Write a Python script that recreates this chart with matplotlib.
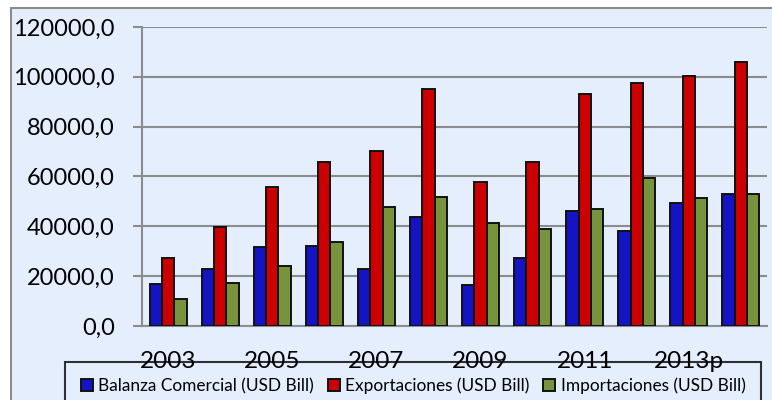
import matplotlib.pyplot as plt
import matplotlib.patches as mpatches
import numpy as np

years = ['2003', '2004', '2005', '2006', '2007', '2008',
         '2009', '2010', '2011', '2012', '2013p', '2014']
balanza = [17000, 22900, 31800, 32200, 22900, 43900,
           16500, 27300, 46100, 38100, 49400, 53000]
exportaciones = [27300, 39800, 55800, 65800, 70200, 95100,
                 57700, 65900, 93000, 97600, 100400, 105900]
importaciones = [10700, 17200, 24100, 33700, 47600, 51600,
                 41200, 38800, 47000, 59500, 51400, 53100]
series_names = ['Balanza Comercial (USD Bill)',
                'Exportaciones (USD Bill)',
                'Importaciones (USD Bill)']
colors = ['#1414C4', '#CC0000', '#77933C']

plt.rcParams['font.family'] = ['Lato', 'DejaVu Sans']

W, H = 772, 400
fig = plt.figure(figsize=(W / 100, H / 100), dpi=100)
fig.patch.set_facecolor('white')

# chart area background with grey border (cut off at right/bottom)
bg = mpatches.Rectangle((11 / W, 1 - 8 / H), 2, -2, transform=fig.transFigure,
                        facecolor='#E4EEFD', edgecolor='#8C8C8C', linewidth=1.5,
                        zorder=-10)
fig.patches.append(bg)

ax = fig.add_axes([142 / W, (H - 326) / H, (767 - 142) / W, (326 - 27) / H])
ax.set_facecolor('none')

x = np.arange(len(years))
w = 0.237
for i, (vals, c, name) in enumerate(zip([balanza, exportaciones, importaciones],
                                          colors, series_names)):
    ax.bar(x + (i - 1) * w, vals, width=w, color=c, edgecolor='#111111',
           linewidth=1.4, label=name, zorder=3)

ax.set_xlim(-0.5, len(years) - 0.5)
ax.set_ylim(0, 120000)
ax.set_yticks(np.arange(0, 120001, 20000))
ax.set_yticklabels([f'{v:.1f}'.replace('.', ',') for v in np.arange(0, 120001, 20000)],
                   fontsize=17)
ax.set_xticks(x[::2])
ax.set_xticklabels(years[::2], fontsize=17.5)
# tick lengths / pads are in points (1 pt = 1.39 px here)
ax.tick_params(axis='x', length=0, pad=18)
ax.tick_params(axis='y', length=6.5, width=1.5, color='#8C8C8C', pad=13)
ax.grid(axis='y', color='#8C8C8C', linewidth=1.5, zorder=0)
for s in ['top', 'right']:
    ax.spines[s].set_visible(False)
ax.spines['left'].set_color('#8C8C8C')
ax.spines['left'].set_linewidth(1.5)
ax.spines['bottom'].set_color('#8C8C8C')
ax.spines['bottom'].set_linewidth(1.5)

leg = fig.legend(loc='upper left', bbox_to_anchor=(65 / W, 0, (761 - 65) / W, (H - 362) / H),
                 mode='expand', ncol=3, fontsize=12.4, frameon=True, fancybox=False,
                 handlelength=0.7, handleheight=0.7, handletextpad=0.3,
                 borderaxespad=0, borderpad=0.9)
leg.get_frame().set_edgecolor('black')
leg.get_frame().set_linewidth(1.5)
leg.get_frame().set_facecolor('#E4EEFD')
leg.set_zorder(-5)

fig.savefig('out.png', dpi=100)
